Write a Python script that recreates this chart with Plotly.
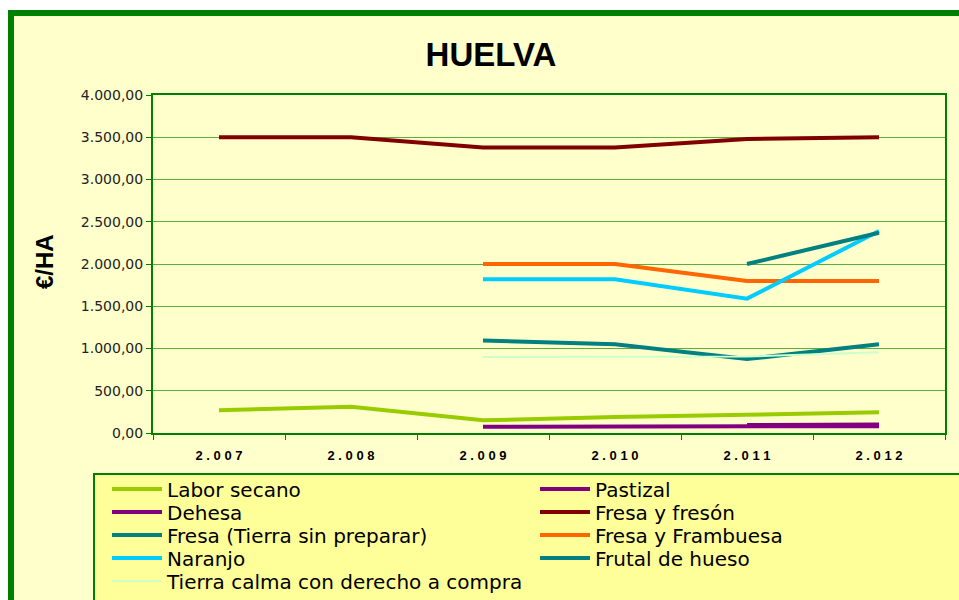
import plotly.graph_objects as go

years = ["2.007", "2.008", "2.009", "2.010", "2.011", "2.012"]

labor_secano = [270, 310, 150, 190, 215, 245]
pastizal = [None, None, 75, 75, 75, 80]
dehesa = [None, None, None, None, 95, 100]
fresa_freson = [3500, 3500, 3380, 3380, 3480, 3500]
fresa_tierra = [None, None, 1095, 1050, 875, 1050]
fresa_frambuesa = [None, None, 2000, 2000, 1800, 1800]
naranjo = [None, None, 1820, 1820, 1590, 2390]
frutal_hueso = [None, None, None, None, 2000, 2370]
tierra_calma = [None, None, 900, 900, 905, 955]

# name, values, colour, width, legend column, legend row
series = [
    ("Labor secano", labor_secano, "#99CC00", 4, 0, 0),
    ("Pastizal", pastizal, "#800080", 4, 1, 0),
    ("Dehesa", dehesa, "#800080", 4, 0, 1),
    ("Fresa y fresón", fresa_freson, "#800000", 4, 1, 1),
    ("Fresa (Tierra sin preparar)", fresa_tierra, "#008080", 4, 0, 2),
    ("Fresa y Frambuesa", fresa_frambuesa, "#FF6600", 4, 1, 2),
    ("Naranjo", naranjo, "#00CCFF", 4, 0, 3),
    ("Frutal de hueso", frutal_hueso, "#008080", 4, 1, 3),
    ("Tierra calma con derecho a compra", tierra_calma, "#CCFFCC", 2, 0, 4),
]

W, H = 959, 600
L, R, T, B = 153, 14, 95, 167
pw, ph = W - L - R, H - T - B

def px(x):
    return (x - L) / pw

def py(y):
    return (H - B - y) / ph

col_x = [107, 535]
row_y = [489, 512, 535, 558, 581]

fig = go.Figure()
legends = {}
for i, (name, vals, color, w, col, row) in enumerate(series):
    lid = "legend" if i == 0 else f"legend{i + 1}"
    fig.add_trace(go.Scatter(
        x=years, y=vals, name=name, mode="lines",
        line=dict(color=color, width=w),
        connectgaps=False, legend=lid, hoverinfo="skip",
    ))
    legends[lid] = dict(
        x=px(col_x[col]), xref="paper", xanchor="left",
        y=(H - row_y[row]) / H, yref="container", yanchor="middle",
        orientation="v", bgcolor="rgba(0,0,0,0)", borderwidth=0,
        itemwidth=50, tracegroupgap=0,
        font=dict(family="DejaVu Sans", size=20, color="#000000"),
    )

shapes = [
    dict(type="rect", xref="paper", yref="paper", layer="below",
         x0=px(11), x1=px(1100), y0=py(13), y1=py(700),
         fillcolor="#FFFFCC", line=dict(color="#008000", width=6)),
    dict(type="rect", xref="paper", yref="paper", layer="below",
         x0=px(94), x1=px(1100), y0=py(474), y1=py(700),
         fillcolor="#FFFF99", line=dict(color="#008000", width=2)),
]

fig.update_layout(
    width=W, height=H,
    margin=dict(l=L, r=R, t=T, b=B, pad=0),
    paper_bgcolor="#FFFFFF",
    plot_bgcolor="#FFFF99",
    separators=",.",
    shapes=shapes,
    showlegend=True,
    title=dict(text="<b>HUELVA</b>", x=491 / W, xref="container", xanchor="center",
               y=(H - 54) / H, yref="container", yanchor="middle",
               font=dict(family="Liberation Sans, Arial", size=33, color="#000000")),
    annotations=[dict(text="<b>€/HA</b>", xref="paper", yref="paper",
                      x=px(44), y=py(262), textangle=-90, showarrow=False,
                      xanchor="center", yanchor="middle",
                      font=dict(family="Liberation Sans, Arial", size=24, color="#000000"))],
    xaxis=dict(
        type="category", categoryorder="array", categoryarray=years,
        tickvals=years, ticktext=[" ".join(y) for y in years],
        tickfont=dict(family="Liberation Sans, Arial", size=13, color="#000000", weight="bold"),
        showgrid=False, showline=True, mirror=True, linecolor="#008000", linewidth=2,
        ticks="outside", tickson="boundaries", ticklen=5, tickcolor="#008000",
        ticklabelstandoff=9, automargin=False,
        range=[-0.5, 5.5], fixedrange=True,
    ),
    yaxis=dict(
        range=[0, 4000], dtick=500, tickformat=",.2f",
        tickfont=dict(family="DejaVu Sans", size=14, color="#222222"),
        showgrid=True, gridcolor="#5BAE3B", gridwidth=1,
        showline=True, mirror=True, linecolor="#008000", linewidth=2,
        ticks="outside", ticklen=5, tickcolor="#008000", zeroline=False,
        automargin=False, fixedrange=True,
    ),
    **legends,
)

fig.write_html("out.html", config={"displayModeBar": False},
               post_script="document.body.style.margin='0';")
